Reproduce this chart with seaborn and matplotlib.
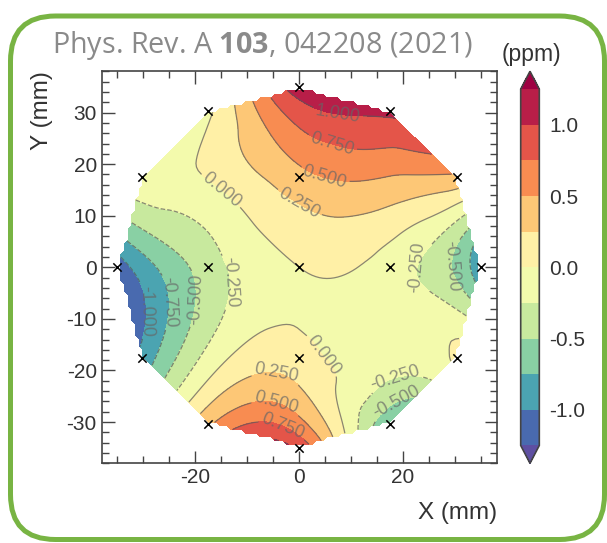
import numpy as np
import matplotlib
matplotlib.use('Agg')
import matplotlib.pyplot as plt
import matplotlib.tri as mtri
from matplotlib.ticker import MultipleLocator
from matplotlib.patches import FancyBboxPatch
import seaborn as sns

# measurement points (mm): centre, inner ring (r=17.5), outer ring (r=35, every 30 deg)
pos_x = [0.0, 17.5, 0.0, -17.5, 0.0,
         35.0, 30.31, 17.5, 0.0, -17.5, -30.31, -35.0, -30.31, -17.5, 0.0, 17.5, 30.31]
pos_y = [0.0, 0.0, 17.5, 0.0, -17.5,
         0.0, 17.5, 30.31, 35.0, 30.31, 17.5, 0.0, -17.5, -30.31, -35.0, -30.31, -17.5]
# field deviation at each point (ppm)
shift_ppm = [0.00, -0.12, 0.42, -0.37, 0.10,
             -0.95, 0.45, 1.05, 1.15, -0.05, -0.10, -1.15, -0.93, 0.45, 0.95, -0.72, 0.05]

levels = np.arange(-1.25, 1.26, 0.25)
cbar_ticks = [-1.0, -0.5, 0.0, 0.5, 1.0]

# where the contour labels sit (mm)
label_spots = [(7.4, 29.7), (6.7, 25.0), (5.5, 19.5), (0.4, 13.0), (-14.9, 15.0),
               (23.9, -0.4), (29.0, 0.2), (6.7, -15.2), (17.0, -16.3), (17.6, -24.0),
               (-29.8, -8.5), (-26.0, -6.8), (-20.2, -6.2), (-13.5, -2.9),
               (-4.8, -23.0), (-4.8, -27.7), (-3.4, -31.5)]

sns.set_style('ticks')
plt.rcParams['font.family'] = ['Liberation Sans', 'DejaVu Sans']
plt.rcParams['axes.unicode_minus'] = False
plt.rcParams['mathtext.fontset'] = 'custom'
plt.rcParams['mathtext.rm'] = 'Open Sans'
plt.rcParams['mathtext.bf'] = 'Open Sans:bold'

fig = plt.figure(figsize=(6.07, 5.43), dpi=100)
ax = fig.add_axes([0.1675, 0.1468, 0.6507, 0.7219])

# cubic interpolation of the 17 points onto a grid (masked outside the hull)
tri = mtri.Triangulation(pos_x, pos_y)
interp = mtri.CubicTriInterpolator(tri, shift_ppm, kind='min_E')
gx, gy = np.meshgrid(np.linspace(-35, 35, 100), np.linspace(-35, 35, 100))
gz = interp(gx, gy)

cmap = sns.color_palette('Spectral_r', as_cmap=True)
cf = ax.contourf(gx, gy, gz, levels=levels, cmap=cmap, extend='both')
cs = ax.contour(gx, gy, gz, levels=levels, colors='0.35', linewidths=0.9, alpha=0.7)
ax.clabel(cs, fmt='%.3f', fontsize=13, colors='0.4', manual=label_spots)
sns.scatterplot(x=pos_x, y=pos_y, marker='x', color='k', s=36, linewidth=1.1, ax=ax, zorder=5)

ax.set_xlim(-38, 38)
ax.set_ylim(-38, 38)
ax.set_xticks([-20, 0, 20])
ax.xaxis.set_minor_locator(MultipleLocator(5))
ax.yaxis.set_major_locator(MultipleLocator(10))
ax.yaxis.set_minor_locator(MultipleLocator(2))
ax.tick_params(which='both', direction='in', top=True, right=True, color='#444444',
               width=1.0, labelsize=15, labelcolor='#333333')
ax.tick_params(which='major', length=9)
ax.tick_params(which='minor', length=5)
for sp in ax.spines.values():
    sp.set_color('#444444')
    sp.set_linewidth(1.2)

ax.set_xlabel('X (mm)', fontsize=17.5, color='#333333', loc='right')
ax.set_ylabel('Y (mm)', fontsize=17.5, color='#333333', loc='top')
ax.xaxis.set_label_coords(1.0, -0.1)
ax.yaxis.set_label_coords(-0.122, 1.0)

cax = fig.add_axes([520.7 / 607, 0.1468, 18.6 / 607, 0.7219])
cb = fig.colorbar(cf, cax=cax, ticks=cbar_ticks, format='%.1f')
cb.outline.set_edgecolor('#444444')
cb.outline.set_linewidth(1.2)
cax.tick_params(length=0, pad=7, labelsize=15, labelcolor='#333333')
fig.text(531 / 607, 1 - 54 / 543, '(ppm)', ha='center', va='center', fontsize=16.5, color='#333333')

fig.text(52 / 607, 1 - 45 / 543, r'Phys. Rev. A $\mathbf{103}$, 042208 (2021)', ha='left', va='center',
         fontsize=20.7, color='#8a8a8a', family='Open Sans')

frame = FancyBboxPatch((0.105, 0.035), 5.94, 5.235, boxstyle='round,pad=0,rounding_size=0.45',
                       transform=fig.dpi_scale_trans, fill=False, ec='#78b443', lw=3.6, clip_on=False)
fig.add_artist(frame)

fig.savefig('out.png', dpi=100)
